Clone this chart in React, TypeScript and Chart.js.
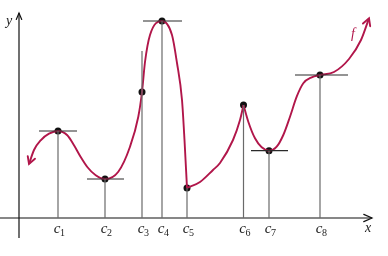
import React, { useEffect, useRef } from "react";
import { Chart, registerables } from "chart.js";

Chart.register(...registerables);

// Critical numbers c1..c8 and their function values
const cNames = ["1", "2", "3", "4", "5", "6", "7", "8"];
const cX = [3.9, 8.6, 12.3, 14.3, 16.8, 22.45, 25.0, 30.1];
const cY = [8.7, 3.9, 12.6, 19.7, 3.0, 11.3, 6.73, 14.3];
// top of the vertical guide at each c (c3 has a vertical tangent extending above)
const guideTop = [8.7, 3.9, 16.7, 19.7, 3.0, 11.3, 6.73, 14.3];
// horizontal tangent segments (null = none)
const tangentStart: (number | null)[] = [2.0, 6.8, null, 12.4, null, null, 23.2, 27.6];
const tangentEnd: (number | null)[] = [5.8, 10.5, null, 16.3, null, null, 26.9, 32.9];

// curve f, piece 1: left arrow end through c1..c4 down to c5
const curve1X = [1.0, 1.5, 2.17, 3.0, 3.9, 4.83, 5.5, 6.17, 6.83, 7.67, 8.6, 9.93, 11.1, 11.93, 12.3, 12.6, 13.1, 14.3, 15.3, 15.8, 16.3, 16.55, 16.8];
const curve1Y = [5.4, 6.8, 7.77, 8.43, 8.7, 8.27, 7.27, 6.1, 5.1, 4.27, 3.9, 4.63, 7.13, 10.13, 12.6, 15.6, 18.3, 19.7, 18.3, 15.5, 11.8, 7.8, 3.0];
// piece 2: c5 up to the cusp at c6
const curve2X = [16.8, 18.1, 19.4, 20.1, 21.4, 22.1, 22.45];
const curve2Y = [3.0, 3.6, 4.8, 5.5, 7.8, 9.8, 11.3];
// piece 3: c6 through c7, c8 to the right arrow end
const curve3X = [22.45, 22.93, 23.6, 24.27, 25.0, 25.77, 26.43, 27.1, 27.77, 28.43, 29.27, 30.1, 31.5, 33.0, 34.2, 35.0];
const curve3Y = [11.3, 9.63, 7.97, 7.07, 6.73, 7.13, 8.3, 10.13, 12.13, 13.47, 14.07, 14.3, 14.6, 15.9, 17.8, 19.97];

// axes extents
const xAxisFrom = -1.9;
const xAxisTo = 35.3;
const yAxisFrom = -2.0;
const yAxisTo = 20.5;

const CURVE = "#b1164a";
const GUIDE = "#6a6a6a";
const TANGENT = "#2a2a2a";

const pts = (xs: number[], ys: number[]) => xs.map((x, i) => ({ x, y: ys[i] }));

export default function App() {
  const ref = useRef<HTMLCanvasElement | null>(null);

  useEffect(() => {
    if (!ref.current) return;
    const datasets: any[] = [];

    // vertical guides
    cX.forEach((x, i) => {
      datasets.push({
        data: [{ x, y: 0 }, { x, y: guideTop[i] }],
        borderColor: GUIDE,
        borderWidth: 1.2,
        pointRadius: 0,
        showLine: true,
      });
    });
    // horizontal tangents
    cX.forEach((_, i) => {
      const s = tangentStart[i];
      const e = tangentEnd[i];
      if (s === null || e === null) return;
      datasets.push({
        data: [{ x: s, y: cY[i] }, { x: e, y: cY[i] }],
        borderColor: TANGENT,
        borderWidth: 1.2,
        pointRadius: 0,
        showLine: true,
      });
    });
    // axes
    datasets.push({
      data: [{ x: xAxisFrom, y: 0 }, { x: xAxisTo, y: 0 }],
      borderColor: "#111",
      borderWidth: 1.2,
      pointRadius: 0,
      showLine: true,
    });
    datasets.push({
      data: [{ x: 0, y: yAxisFrom }, { x: 0, y: yAxisTo }],
      borderColor: "#111",
      borderWidth: 1.2,
      pointRadius: 0,
      showLine: true,
    });
    // curve pieces
    [pts(curve1X, curve1Y), pts(curve2X, curve2Y), pts(curve3X, curve3Y)].forEach((d) => {
      datasets.push({
        data: d,
        borderColor: CURVE,
        borderWidth: 1.9,
        pointRadius: 0,
        showLine: true,
        cubicInterpolationMode: "monotone",
      });
    });
    // critical points
    datasets.push({
      data: pts(cX, cY),
      showLine: false,
      pointRadius: 3.5,
      pointBackgroundColor: "#111",
      pointBorderColor: "#111",
      pointBorderWidth: 0,
    });

    const arrow = (ctx: CanvasRenderingContext2D, fx: number, fy: number, tx: number, ty: number, len: number, half: number, color: string, w: number) => {
      const a = Math.atan2(ty - fy, tx - fx);
      ctx.save();
      ctx.strokeStyle = color;
      ctx.lineWidth = w;
      ctx.lineCap = "round";
      ctx.beginPath();
      ctx.moveTo(tx - len * Math.cos(a - half), ty - len * Math.sin(a - half));
      ctx.lineTo(tx, ty);
      ctx.lineTo(tx - len * Math.cos(a + half), ty - len * Math.sin(a + half));
      ctx.stroke();
      ctx.restore();
    };

    const decor = {
      id: "decor",
      afterDatasetsDraw(chart: any) {
        const ctx: CanvasRenderingContext2D = chart.ctx;
        const xs = chart.scales.x;
        const ys = chart.scales.y;
        const X = (v: number) => xs.getPixelForValue(v);
        const Y = (v: number) => ys.getPixelForValue(v);

        // axis arrows
        arrow(ctx, X(xAxisFrom), Y(0), X(xAxisTo), Y(0), 9, 0.42, "#111", 1.2);
        arrow(ctx, X(0), Y(yAxisFrom), X(0), Y(yAxisTo), 7, 0.4, "#111", 1.2);
        // curve arrows
        arrow(ctx, X(curve1X[1]), Y(curve1Y[1]), X(curve1X[0]), Y(curve1Y[0]), 8, 0.5, CURVE, 1.9);
        const n3 = curve3X.length;
        arrow(ctx, X(curve3X[n3 - 2]), Y(curve3Y[n3 - 2]), X(curve3X[n3 - 1]), Y(curve3Y[n3 - 1]), 8, 0.5, CURVE, 1.9);

        ctx.save();
        ctx.textBaseline = "alphabetic";
        // c labels
        cX.forEach((x, i) => {
          const px = X(x);
          ctx.fillStyle = "#222";
          ctx.font = "italic 15px 'Liberation Serif', serif";
          ctx.textAlign = "center";
          ctx.fillText("c", px - 1, Y(0) + 15);
          ctx.font = "10px 'Liberation Serif', serif";
          ctx.textAlign = "left";
          ctx.fillText(cNames[i], px + 2, Y(0) + 18);
        });
        // axis names
        ctx.fillStyle = "#222";
        ctx.font = "italic 14px 'Liberation Serif', serif";
        ctx.textAlign = "center";
        ctx.fillText("x", X(34.9), Y(0) + 14);
        ctx.fillText("y", X(-1.0), Y(19.7) + 4);
        // function name
        ctx.fillStyle = CURVE;
        ctx.font = "italic 14px 'Liberation Serif', serif";
        ctx.fillText("f", X(33.4), Y(18.5) + 5);
        ctx.restore();
      },
    };

    const chart = new Chart(ref.current, {
      type: "scatter",
      data: { datasets },
      options: {
        animation: false,
        responsive: false,
        layout: { padding: 0, autoPadding: false },
        plugins: { legend: { display: false }, tooltip: { enabled: false } },
        scales: {
          x: { type: "linear", min: -1.9, max: 36.9, display: false },
          y: { type: "linear", min: -3.8, max: 21.8, display: false },
        },
      },
      plugins: [decor],
    });
    return () => chart.destroy();
  }, []);

  return (
    <div style={{ position: "absolute", left: 0, top: 0, width: 388, height: 256, background: "#fff" }}>
      <canvas ref={ref} width={388} height={256} style={{ display: "block" }} />
    </div>
  );
}
